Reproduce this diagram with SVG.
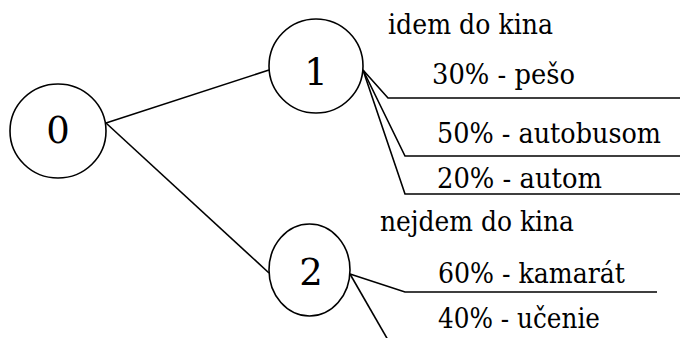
<svg xmlns="http://www.w3.org/2000/svg" width="680" height="338" viewBox="0 0 680 338">
<style>
.n{fill:#fff;stroke:#000;stroke-width:1.6}
.c{fill:none;stroke:#000;stroke-width:1.6}
.d{font-family:'DejaVu Serif',serif;font-size:37px;fill:#000;text-anchor:middle}
.t{font-family:'DejaVu Serif',serif;font-size:27px;fill:#000}
</style>
<rect width="680" height="338" fill="#fff"/>
<g id="connectors">
<polyline class="c" points="106,123 269,70"/>
<polyline class="c" points="106,123 269,273"/>
<polyline class="c" points="363,70 388,98 680,98"/>
<polyline class="c" points="363,70 405,156 680,156"/>
<polyline class="c" points="363,70 405,194 680,194"/>
<polyline class="c" points="350,274 405,292 657,292"/>
<polyline class="c" points="350,274 388,340"/>
</g>
<g id="node0">
<ellipse class="n" cx="58" cy="131" rx="48" ry="47"/>
<text class="d" x="58" y="143">0</text>
</g>
<g id="node1">
<ellipse class="n" cx="316" cy="66" rx="47" ry="47"/>
<text class="d" x="316" y="85">1</text>
</g>
<g id="node2">
<ellipse class="n" cx="309.5" cy="270" rx="40.5" ry="46"/>
<text class="d" x="311" y="285">2</text>
</g>
<g id="labels">
<text class="t" x="388" y="34" textLength="165" lengthAdjust="spacingAndGlyphs">idem do kina</text>
<text class="t" x="432" y="84" textLength="143" lengthAdjust="spacingAndGlyphs">30% - pešo</text>
<text class="t" x="437" y="143" textLength="224" lengthAdjust="spacingAndGlyphs">50% - autobusom</text>
<text class="t" x="437" y="188" textLength="165" lengthAdjust="spacingAndGlyphs">20% - autom</text>
<text class="t" x="380" y="231" textLength="194" lengthAdjust="spacingAndGlyphs">nejdem do kina</text>
<text class="t" x="438" y="283" textLength="187" lengthAdjust="spacingAndGlyphs">60% - kamarát</text>
<text class="t" x="438" y="328" textLength="162" lengthAdjust="spacingAndGlyphs">40% - učenie</text>
</g>
</svg>
